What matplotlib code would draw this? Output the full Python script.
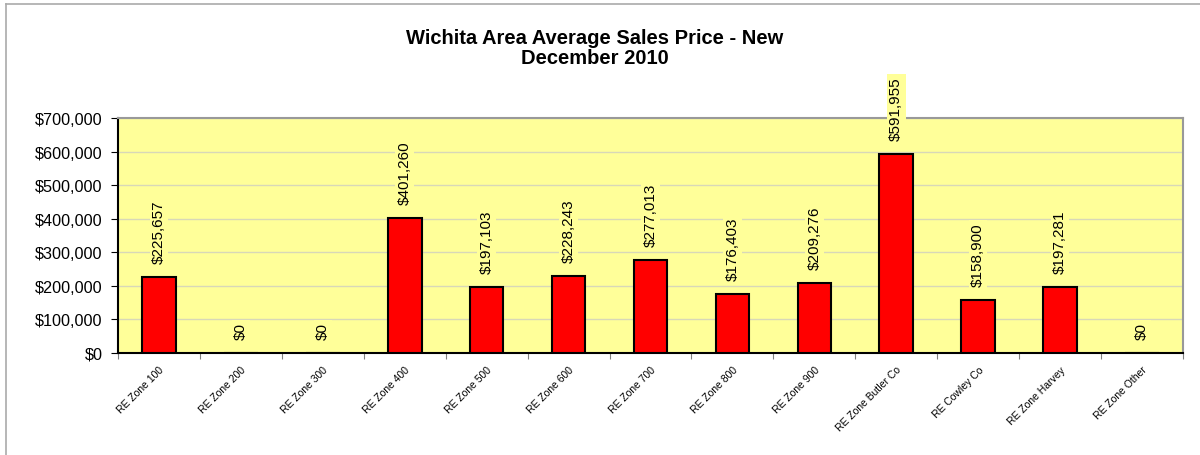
import matplotlib
matplotlib.use("Agg")
import matplotlib.pyplot as plt
from matplotlib.lines import Line2D
from matplotlib.ticker import FuncFormatter, MultipleLocator, FixedLocator

categories = ["RE Zone 100", "RE Zone 200", "RE Zone 300", "RE Zone 400", "RE Zone 500",
              "RE Zone 600", "RE Zone 700", "RE Zone 800", "RE Zone 900", "RE Zone Butler Co",
              "RE Cowley Co", "RE Zone Harvey", "RE Zone Other"]
values = [225657, 0, 0, 401260, 197103, 228243, 277013, 176403, 209276, 591955, 158900, 197281, 0]
title_lines = ["Wichita Area Average Sales Price - New", "December 2010"]

plt.rcParams['font.family'] = ['Liberation Sans', 'DejaVu Sans']

fig = plt.figure(figsize=(12, 4.56), dpi=100)
ax = fig.add_axes([118/1200, 1 - 354/456, (1183-118)/1200, (354-119)/456])
ax.set_facecolor('#FFFF99')

x = list(range(len(categories)))
ax.bar(x, values, width=0.41, color='#FF0000', edgecolor='black', linewidth=1.5, zorder=3)

ax.set_xlim(-0.5, len(categories) - 0.5)
ax.set_ylim(0, 700000)
ax.yaxis.set_major_locator(MultipleLocator(100000))
ax.yaxis.set_major_formatter(FuncFormatter(lambda v, p: "${:,.0f}".format(v)))
ax.grid(axis='y', color='#D8D8B8', linewidth=1, zorder=0)
ax.set_axisbelow(True)

ax.xaxis.set_major_locator(FixedLocator([i - 0.5 for i in range(len(categories) + 1)]))
ax.xaxis.set_major_formatter(FuncFormatter(lambda v, p: ""))
ax.xaxis.set_minor_locator(FixedLocator(x))
ax.set_xticklabels(categories, minor=True, rotation=45, ha='right', rotation_mode='anchor', fontsize=7.5)
ax.tick_params(axis='x', which='minor', length=0, pad=8)
ax.tick_params(axis='x', which='major', length=4, direction='out', color='#808080')
ax.tick_params(axis='y', length=5, direction='out', labelsize=11.7, pad=6)

for s in ['top', 'right']:
    ax.spines[s].set_color('#999999')
    ax.spines[s].set_linewidth(1.5)
for s in ['left', 'bottom']:
    ax.spines[s].set_color('black')
    ax.spines[s].set_linewidth(1.5)

for xi, v in zip(x, values):
    ax.annotate("${:,.0f}".format(v), (xi, v), xytext=(0, 10), textcoords='offset points',
                rotation=90, ha='center', va='bottom', fontsize=11, zorder=5,
                annotation_clip=False,
                bbox=dict(boxstyle='square,pad=0.15', facecolor='#FFFF99', edgecolor='none'))

fig.text(595/1200, 1 - 38/456, title_lines[0], ha='center', va='center', fontsize=14.5, fontweight='bold')
fig.text(595/1200, 1 - 59/456, title_lines[1], ha='center', va='center', fontsize=14.5, fontweight='bold')

fig.add_artist(Line2D([6/1200, 6/1200], [0, 1 - 5/456], transform=fig.transFigure, color='#AAAAAA', linewidth=1.2))
fig.add_artist(Line2D([6/1200, 1], [1 - 5/456, 1 - 5/456], transform=fig.transFigure, color='#AAAAAA', linewidth=1.2))

fig.savefig('out.png', dpi=100)
